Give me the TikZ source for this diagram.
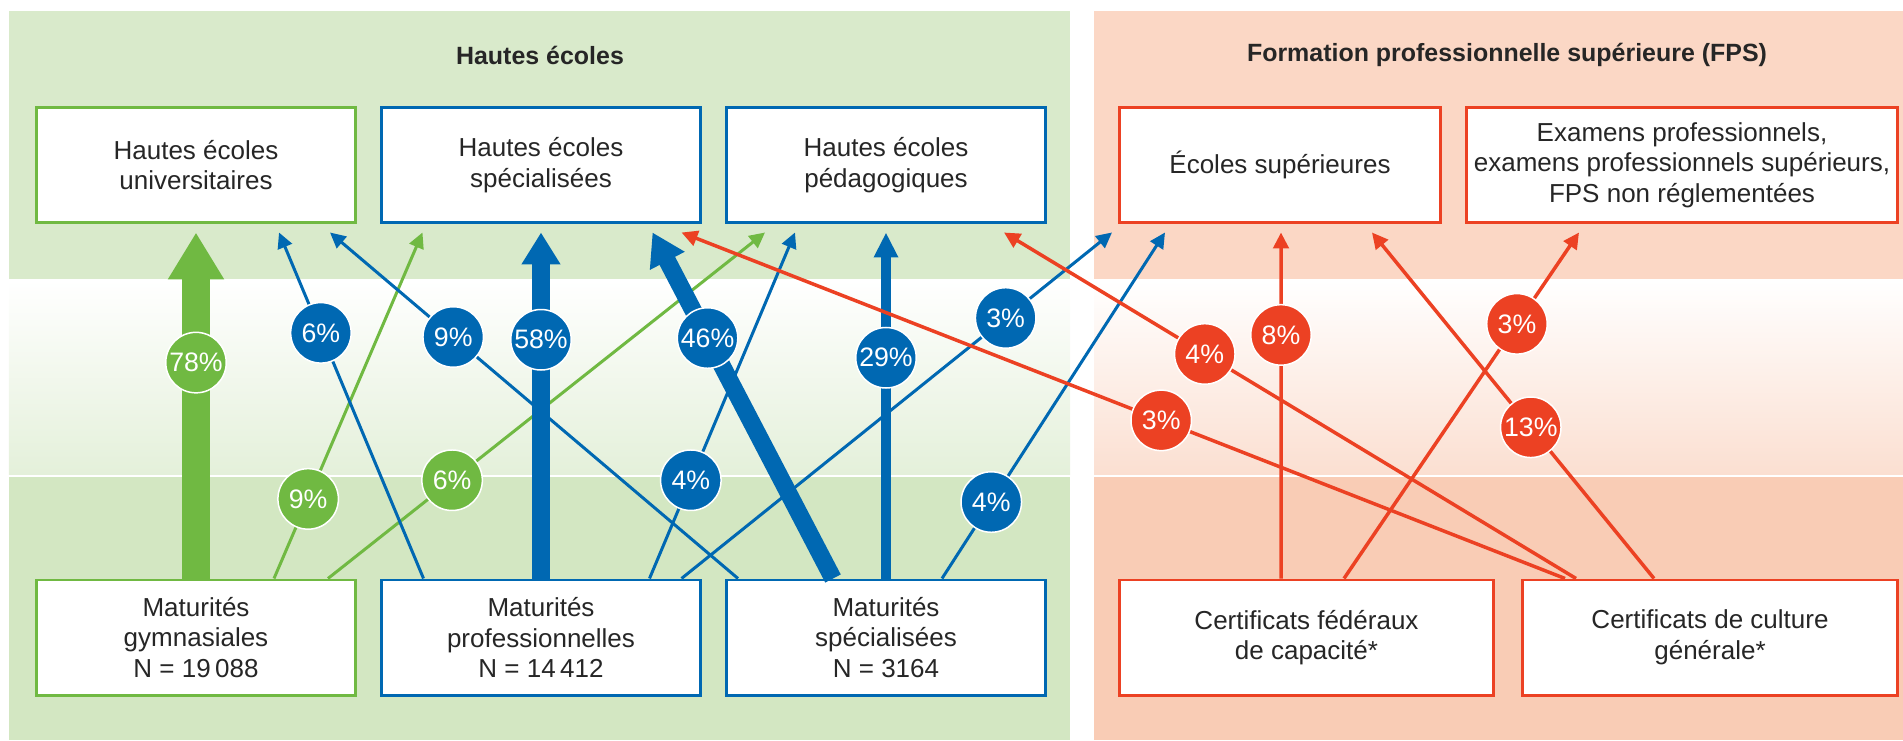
\documentclass[tikz,border=0pt]{standalone}
\usepackage{fontspec}
\setmainfont{Liberation Sans}
\usepackage{tikz}
\usetikzlibrary{arrows.meta, positioning}
\definecolor{heGreen}{RGB}{112,185,66}
\definecolor{heBlue}{RGB}{0,104,178}
\definecolor{fpsRed}{RGB}{236,65,35}
\definecolor{bgGreen}{RGB}{217,234,203}
\definecolor{bgGreenMid}{RGB}{228,240,218}
\definecolor{bgGreenLow}{RGB}{211,231,194}
\definecolor{bgRed}{RGB}{251,215,197}
\definecolor{bgRedMid}{RGB}{251,223,209}
\definecolor{bgRedLow}{RGB}{249,204,181}

\begin{document}
\begin{tikzpicture}[
    box/.style={draw,fill=white,line width=0.06cm,minimum width=6.38cm,
      minimum height=2.3cm,align=center,text=black!85,
      font=\fontsize{14.8}{17.4}\selectfont},
    panelhead/.style={font=\bfseries\fontsize{14.2}{17}\selectfont,text=black!85},
    pct/.style={circle,fill=#1,draw=white,line width=0.03cm,minimum size=1.21cm,
      inner sep=0pt,text=white,font=\fontsize{15.2}{17}\selectfont},
    link/.style={#1,line width=0.06cm,-{Triangle[length=0.31cm,width=0.3cm]}},
    redlink/.style={fpsRed,line width=0.07cm,-{Triangle[length=0.32cm,width=0.31cm]}},
    bigflow/.style={line width=0.56cm,-{Triangle[length=0.94cm,width=1.06cm]}},
    midflow/.style={line width=0.35cm,-{Triangle[length=0.64cm,width=0.74cm]}},
    smallflow/.style={line width=0.2cm,-{Triangle[length=0.5cm,width=0.46cm]}}
  ]
  \useasboundingbox (0,0) rectangle (38.06,14.8);

  % panels
  \fill[bgGreen] (0.18,9.2) rectangle (21.4,14.58);
  \shade[top color=white,bottom color=bgGreenMid] (0.18,5.3) rectangle (21.4,9.2);
  \fill[bgGreenLow] (0.18,0) rectangle (21.4,5.26);
  \fill[bgRed] (21.88,9.2) rectangle (38.06,14.58);
  \shade[top color=white,bottom color=bgRedMid] (21.88,5.3) rectangle (38.06,9.2);
  \fill[bgRedLow] (21.88,0) rectangle (38.06,5.26);

  \node[panelhead] (hdHE) at (10.8,13.7) {Hautes écoles};
  \node[panelhead] (hdFPS) at (30.14,13.7) {Formation professionnelle supérieure (FPS)};

  % Hautes ecoles / FPS
  \node[box,draw=heGreen] (heu) at (3.92,11.5) {Hautes écoles\\universitaires};
  \node[box,draw=heBlue,right=0.46cm of heu] (hes) {Hautes écoles\\spécialisées};
  \node[box,draw=heBlue,right=0.46cm of hes] (hep) {Hautes écoles\\pédagogiques};
  \node[box,draw=fpsRed,minimum width=6.42cm] (es) at (25.6,11.5) {Écoles supérieures};
  \node[box,draw=fpsRed,minimum width=8.62cm,right=0.46cm of es] (exa)
    {Examens professionnels,\\examens professionnels supérieurs,\\FPS non réglementées};

  % Certificats
  \node[box,draw=heGreen] (gym) at (3.92,2.05) {Maturités\\gymnasiales\\N = 19\,088};
  \node[box,draw=heBlue,right=0.46cm of gym] (pro) {Maturités\\professionnelles\\N = 14\,412};
  \node[box,draw=heBlue,right=0.46cm of pro] (spe) {Maturités\\spécialisées\\N = 3164};
  \node[box,draw=fpsRed,minimum width=7.48cm] (cfc) at (26.13,2.05) {Certificats fédéraux\\de capacité*};
  \node[box,draw=fpsRed,minimum width=7.5cm,right=0.52cm of cfc] (ccg) {Certificats de culture\\générale*};

  % from gym
  \draw[bigflow,heGreen] (gym.north) -- node[pct=heGreen,pos=0.624] (g78) {78\%}
    ([yshift=-0.17cm]heu.south);
  \draw[link=heGreen] ([xshift=1.56cm]gym.north) -- node[pct=heGreen,pos=0.23] (g9) {9\%}
    ([xshift=-2.37cm,yshift=-0.17cm]hes.south);
  \draw[link=heGreen] ([xshift=2.64cm]gym.north) -- node[pct=heGreen,pos=0.284] (g6) {6\%}
    ([xshift=-2.42cm,yshift=-0.17cm]hep.south);

  % from pro
  \draw[link=heBlue] ([xshift=-2.35cm]pro.north) -- node[pct=heBlue,pos=0.71] (p6) {6\%}
    ([xshift=1.66cm,yshift=-0.17cm]heu.south);
  \draw[midflow,heBlue] (pro.north) -- node[pct=heBlue,pos=0.69] (p58) {58\%}
    ([yshift=-0.17cm]hes.south);
  \draw[link=heBlue] ([xshift=2.17cm]pro.north) -- node[pct=heBlue,pos=0.284] (p4) {4\%}
    ([xshift=-1.82cm,yshift=-0.17cm]hep.south);
  \draw[link=heBlue] ([xshift=2.81cm]pro.north) -- node[pct=heBlue,pos=0.753] (p3) {3\%}
    ([xshift=-3.36cm,yshift=-0.17cm]es.south);

  % from spe
  \draw[link=heBlue] ([xshift=-2.96cm]spe.north) -- node[pct=heBlue,pos=0.698] (s9) {9\%}
    ([xshift=2.68cm,yshift=-0.17cm]heu.south);
  \draw[midflow,heBlue] ([xshift=-1.06cm]spe.north) -- node[pct=heBlue,pos=0.695] (s46) {46\%}
    ([xshift=2.23cm,yshift=-0.17cm]hes.south);
  \draw[smallflow,heBlue] (spe.north) -- node[pct=heBlue,pos=0.638] (s29) {29\%}
    ([yshift=-0.17cm]hep.south);
  \draw[link=heBlue] ([xshift=1.12cm]spe.north) -- node[pct=heBlue,pos=0.221] (s4) {4\%}
    ([xshift=-2.3cm,yshift=-0.17cm]es.south);

  % from cfc
  \draw[redlink] ([xshift=-0.51cm]cfc.north) -- node[pct=fpsRed,pos=0.704] (c8) {8\%}
    ([xshift=0.02cm,yshift=-0.17cm]es.south);
  \draw[redlink] ([xshift=0.75cm]cfc.north) -- node[pct=fpsRed,pos=0.736] (c3) {3\%}
    ([xshift=-2.06cm,yshift=-0.17cm]exa.south);

  % from ccg
  \draw[redlink] ([xshift=-2.9cm]ccg.north) -- node[pct=fpsRed,pos=0.457] (k3) {3\%}
    ([xshift=2.81cm,yshift=-0.17cm]hes.south);
  \draw[redlink] ([xshift=-2.68cm]ccg.north) -- node[pct=fpsRed,pos=0.649] (k4) {4\%}
    ([xshift=2.36cm,yshift=-0.17cm]hep.south);
  \draw[redlink] ([xshift=-1.12cm]ccg.north) -- node[pct=fpsRed,pos=0.437] (k13) {13\%}
    ([xshift=1.84cm,yshift=-0.17cm]es.south);
\end{tikzpicture}
\end{document}
